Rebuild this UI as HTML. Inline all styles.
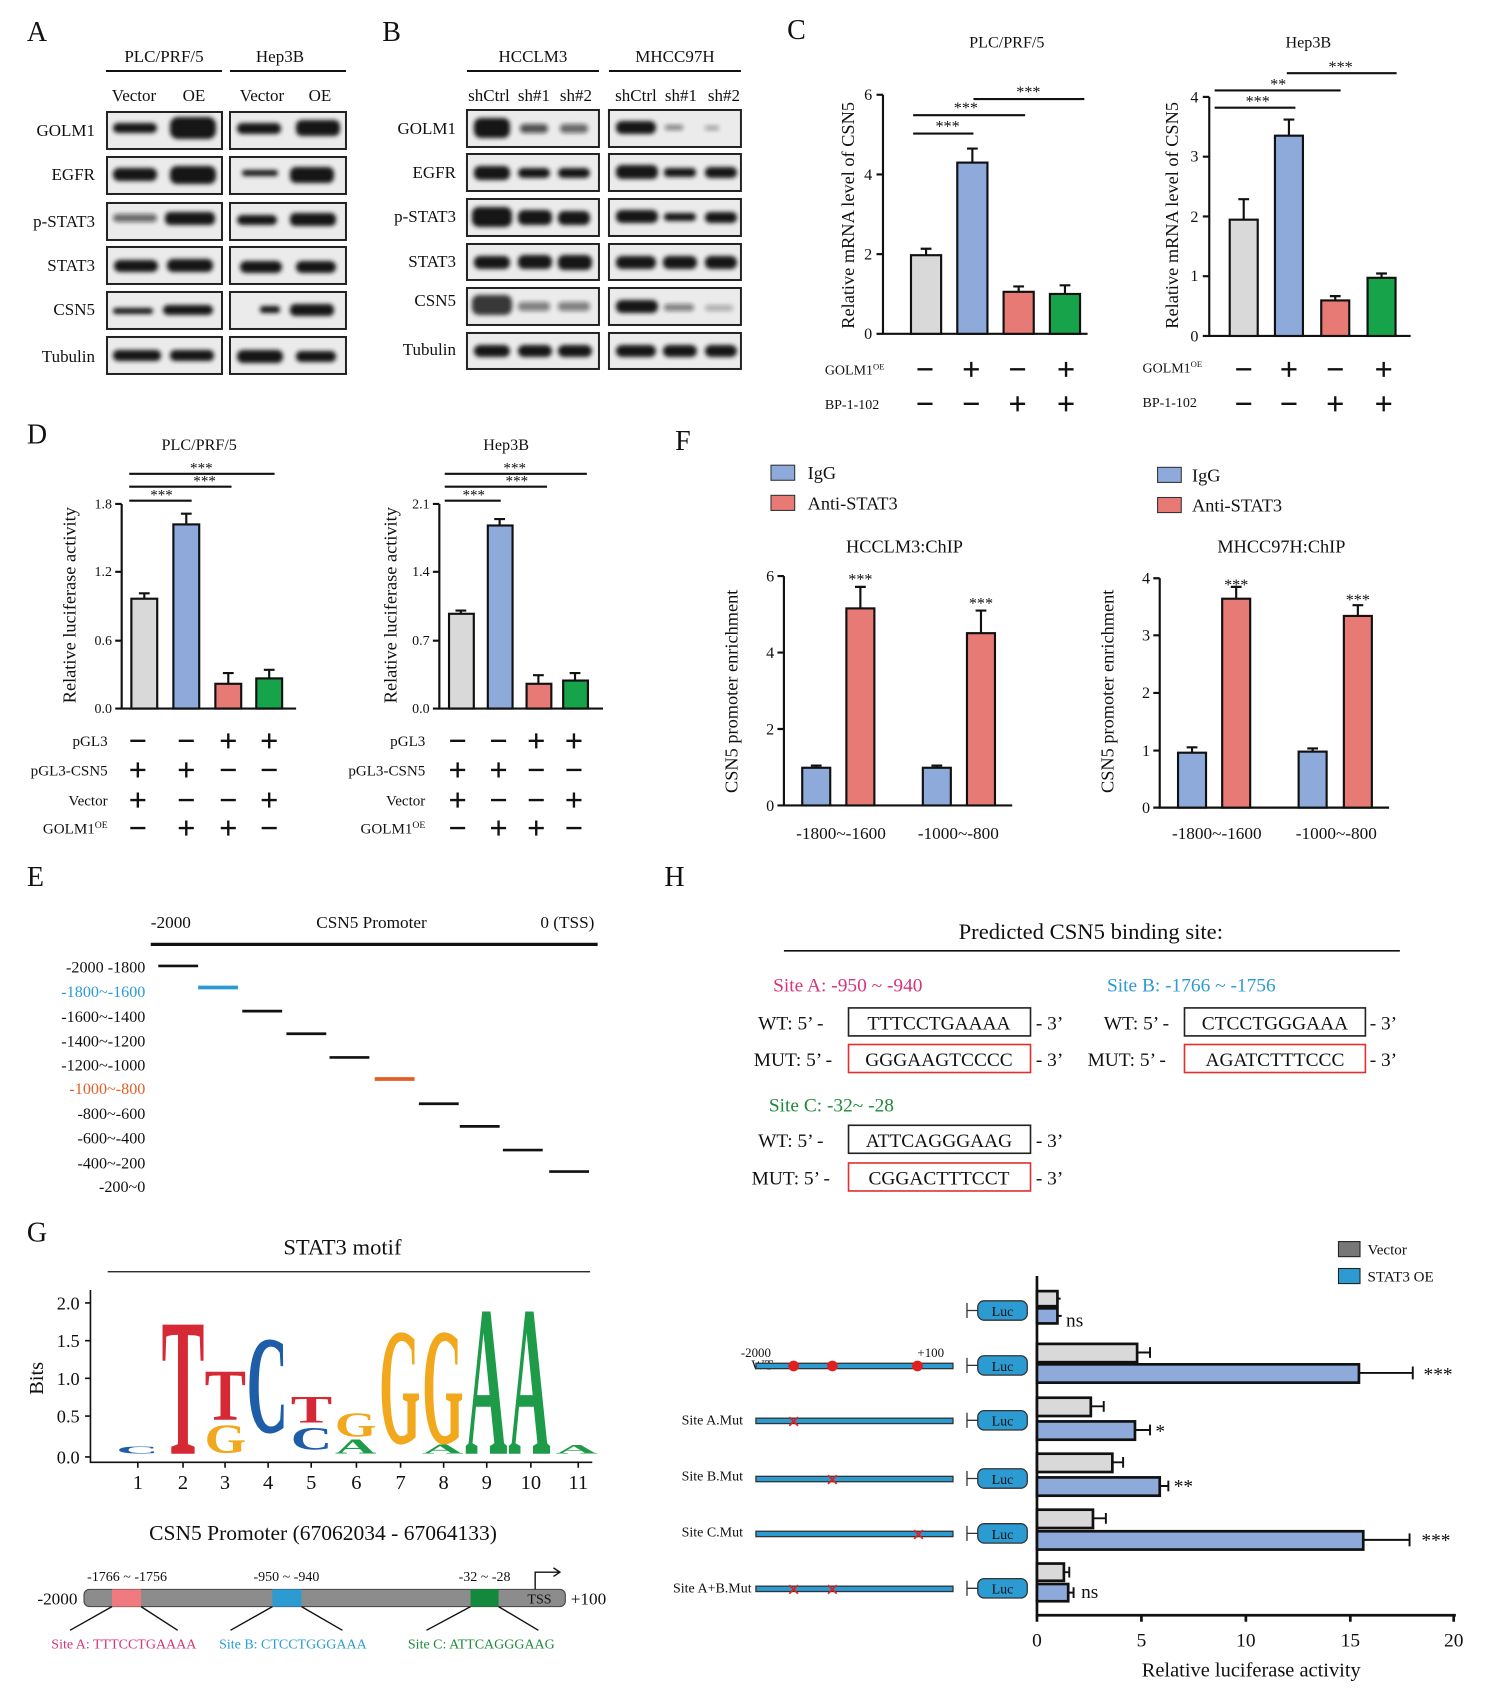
<!DOCTYPE html>
<html><head><meta charset="utf-8"><style>
html,body{margin:0;padding:0;background:#fff}
svg{display:block}
text{font-family:"Liberation Serif",serif;fill:#111}
</style></head><body>
<svg width="1486" height="1696" viewBox="0 0 1380 1575" preserveAspectRatio="none" xmlns="http://www.w3.org/2000/svg">
<defs><filter id="b" x="-20%" y="-50%" width="140%" height="200%"><feGaussianBlur stdDeviation="2.2"/></filter></defs>
<rect width="1380" height="1575" fill="#fff"/>
<text x="25" y="38" font-size="26">A</text>
<text x="355" y="38" font-size="26">B</text>
<g transform="scale(0.9286)">
<!-- Panel A -->
<g font-size="17" text-anchor="middle">
<text x="164" y="62">PLC/PRF/5</text><text x="280" y="62">Hep3B</text>
<text x="134" y="101">Vector</text><text x="194" y="101">OE</text><text x="262" y="101">Vector</text><text x="320" y="101">OE</text>
</g>
<g stroke="#111" stroke-width="2"><line x1="106" y1="71" x2="222" y2="71"/><line x1="230" y1="71" x2="346" y2="71"/></g>
<g font-size="17" text-anchor="end">
<text x="95" y="136">GOLM1</text><text x="95" y="180">EGFR</text><text x="95" y="227">p-STAT3</text><text x="95" y="271">STAT3</text><text x="95" y="315">CSN5</text><text x="95" y="362">Tubulin</text>
</g>
<g fill="#ebebeb" stroke="#222" stroke-width="2">
<rect x="107" y="112" width="115" height="37"/><rect x="230" y="112" width="116" height="37"/>
<rect x="107" y="157" width="115" height="37"/><rect x="230" y="157" width="116" height="37"/>
<rect x="107" y="203" width="115" height="37"/><rect x="230" y="203" width="116" height="37"/>
<rect x="107" y="247" width="115" height="37"/><rect x="230" y="247" width="116" height="37"/>
<rect x="107" y="292" width="115" height="37"/><rect x="230" y="292" width="116" height="37"/>
<rect x="107" y="337" width="115" height="37"/><rect x="230" y="337" width="116" height="37"/>
</g>
<g fill="#151515" filter="url(#b)">
<rect x="113" y="123" width="44" height="10" rx="5"/><rect x="170" y="117" width="46" height="22" rx="8"/>
<rect x="237" y="123" width="44" height="11" rx="5"/><rect x="296" y="120" width="44" height="16" rx="6"/>
<rect x="113" y="168" width="44" height="13" rx="6"/><rect x="170" y="166" width="46" height="18" rx="7"/>
<rect x="242" y="170" width="36" height="6" rx="3"/><rect x="290" y="167" width="44" height="16" rx="6"/>
<rect x="113" y="214" width="44" height="8" rx="4" opacity=".6"/><rect x="165" y="212" width="50" height="13" rx="5"/>
<rect x="237" y="215" width="40" height="10" rx="5"/><rect x="290" y="213" width="46" height="13" rx="5"/>
<rect x="114" y="260" width="44" height="12" rx="6"/><rect x="167" y="259" width="46" height="13" rx="6"/>
<rect x="240" y="261" width="42" height="12" rx="6"/><rect x="296" y="261" width="40" height="12" rx="6"/>
<rect x="113" y="308" width="40" height="6" rx="3"/><rect x="163" y="305" width="50" height="10" rx="5"/>
<rect x="260" y="306" width="20" height="7" rx="3"/><rect x="290" y="304" width="44" height="12" rx="5"/>
<rect x="113" y="350" width="48" height="11" rx="5"/><rect x="170" y="350" width="44" height="11" rx="5"/>
<rect x="237" y="350" width="46" height="13" rx="6"/><rect x="296" y="351" width="40" height="11" rx="5"/>
</g>
<!-- Panel B -->
<g font-size="17" text-anchor="middle">
<text x="533" y="62">HCCLM3</text><text x="675" y="62">MHCC97H</text>
<text x="489" y="101">shCtrl</text><text x="534" y="101">sh#1</text><text x="576" y="101">sh#2</text>
<text x="636" y="101">shCtrl</text><text x="681" y="101">sh#1</text><text x="724" y="101">sh#2</text>
</g>
<g stroke="#111" stroke-width="2"><line x1="467" y1="71" x2="599" y2="71"/><line x1="609" y1="71" x2="741" y2="71"/></g>
<g font-size="17" text-anchor="end">
<text x="456" y="134">GOLM1</text><text x="456" y="178">EGFR</text><text x="456" y="222">p-STAT3</text><text x="456" y="267">STAT3</text><text x="456" y="306">CSN5</text><text x="456" y="355">Tubulin</text>
</g>
<g fill="#ebebeb" stroke="#222" stroke-width="2">
<rect x="467" y="110" width="132" height="37"/><rect x="609" y="110" width="132" height="37"/>
<rect x="467" y="154" width="132" height="37"/><rect x="609" y="154" width="132" height="37"/>
<rect x="467" y="199" width="132" height="37"/><rect x="609" y="199" width="132" height="37"/>
<rect x="467" y="244" width="132" height="36"/><rect x="609" y="244" width="132" height="36"/>
<rect x="467" y="288" width="132" height="37"/><rect x="609" y="288" width="132" height="37"/>
<rect x="467" y="333" width="132" height="36"/><rect x="609" y="333" width="132" height="36"/>
</g>
<g fill="#151515" filter="url(#b)">
<rect x="474" y="118" width="36" height="20" rx="7"/><rect x="520" y="124" width="28" height="9" rx="4" opacity=".7"/><rect x="560" y="124" width="28" height="9" rx="4" opacity=".6"/>
<rect x="616" y="121" width="40" height="13" rx="6"/><rect x="665" y="125" width="18" height="5" rx="2" opacity=".5"/><rect x="705" y="126" width="14" height="4" rx="2" opacity=".4"/>
<rect x="474" y="166" width="36" height="14" rx="6"/><rect x="518" y="168" width="32" height="10" rx="5"/><rect x="558" y="168" width="32" height="10" rx="5"/>
<rect x="616" y="165" width="42" height="14" rx="6"/><rect x="664" y="168" width="32" height="9" rx="4"/><rect x="705" y="167" width="32" height="11" rx="5"/>
<rect x="472" y="207" width="40" height="20" rx="7"/><rect x="518" y="210" width="34" height="15" rx="6"/><rect x="558" y="211" width="32" height="14" rx="6"/>
<rect x="616" y="210" width="42" height="13" rx="6"/><rect x="664" y="213" width="32" height="8" rx="4"/><rect x="705" y="212" width="32" height="11" rx="5"/>
<rect x="474" y="256" width="36" height="13" rx="6"/><rect x="518" y="255" width="34" height="14" rx="6"/><rect x="558" y="255" width="34" height="15" rx="6"/>
<rect x="616" y="256" width="40" height="13" rx="6"/><rect x="663" y="256" width="34" height="13" rx="6"/><rect x="705" y="256" width="32" height="13" rx="6"/>
<rect x="472" y="295" width="40" height="20" rx="7" opacity=".85"/><rect x="518" y="302" width="32" height="9" rx="4" opacity=".5"/><rect x="558" y="302" width="32" height="9" rx="4" opacity=".5"/>
<rect x="616" y="300" width="42" height="13" rx="6"/><rect x="664" y="304" width="30" height="7" rx="3" opacity=".5"/><rect x="705" y="305" width="28" height="6" rx="3" opacity=".3"/>
<rect x="474" y="345" width="36" height="12" rx="6"/><rect x="518" y="345" width="34" height="12" rx="6"/><rect x="558" y="345" width="34" height="12" rx="6"/>
<rect x="616" y="345" width="40" height="12" rx="6"/><rect x="663" y="345" width="34" height="12" rx="6"/><rect x="705" y="345" width="32" height="12" rx="6"/>
</g>
</g>
<!-- Panel C -->
<text x="731" y="36" font-size="26">C</text>
<g font-size="15" text-anchor="middle"><text x="935" y="44">PLC/PRF/5</text><text x="1215" y="44">Hep3B</text></g>
<g stroke="#111" stroke-width="2" fill="none">
<polyline points="820,88 820,310 1010,310"/>
<line x1="814" y1="88" x2="820" y2="88"/><line x1="814" y1="162" x2="820" y2="162"/><line x1="814" y1="236" x2="820" y2="236"/><line x1="814" y1="310" x2="820" y2="310"/>
<polyline points="1123,90 1123,312 1310,312"/>
<line x1="1117" y1="90" x2="1123" y2="90"/><line x1="1117" y1="145.5" x2="1123" y2="145.5"/><line x1="1117" y1="201" x2="1123" y2="201"/><line x1="1117" y1="256.5" x2="1123" y2="256.5"/><line x1="1117" y1="312" x2="1123" y2="312"/>
</g>
<g font-size="15" text-anchor="end" style="font-family:'Liberation Sans',sans-serif">
<text x="810" y="93">6</text><text x="810" y="167">4</text><text x="810" y="241">2</text><text x="810" y="315">0</text>
<text x="1113" y="95">4</text><text x="1113" y="150">3</text><text x="1113" y="206">2</text><text x="1113" y="261">1</text><text x="1113" y="317">0</text>
</g>
<text transform="translate(793,200) rotate(-90)" font-size="17" text-anchor="middle">Relative mRNA level of CSN5</text>
<text transform="translate(1094,200) rotate(-90)" font-size="17" text-anchor="middle">Relative mRNA level of CSN5</text>
<g stroke="#111" stroke-width="2">
<rect x="846" y="237" width="28" height="73" fill="#d9d9d9"/><rect x="889" y="151" width="28" height="159" fill="#8eaadb"/><rect x="932" y="271" width="28" height="39" fill="#e87a76"/><rect x="975" y="273" width="28" height="37" fill="#16a34a"/>
<rect x="1142" y="204" width="26" height="108" fill="#d9d9d9"/><rect x="1184" y="126" width="26" height="186" fill="#8eaadb"/><rect x="1227" y="279" width="26" height="33" fill="#e87a76"/><rect x="1270" y="258" width="26" height="54" fill="#16a34a"/>
<path d="M860 237V231M855 231H865M903 151V138M898 138H908M946 271V266M941 266H951M989 273V265M984 265H994" fill="none"/>
<path d="M1155 204V185M1150 185H1160M1197 126V111M1192 111H1202M1240 279V275M1235 275H1245M1283 258V254M1278 254H1288" fill="none"/>
<path d="M848 124H904M848 107H952M904 92H1007M1128 100H1203M1128 84H1245M1195 68H1297"/>
</g>
<g font-size="15" text-anchor="middle"><text x="880" y="122">***</text><text x="897" y="105">***</text><text x="955" y="90">***</text><text x="1168" y="99">***</text><text x="1187" y="83">**</text><text x="1245" y="67">***</text></g>
<g font-size="13"><text x="766" y="348">GOLM1<tspan font-size="8" dy="-5">OE</tspan></text><text x="766" y="380">BP-1-102</text>
<text x="1061" y="346">GOLM1<tspan font-size="8" dy="-5">OE</tspan></text><text x="1061" y="378">BP-1-102</text></g>
<g stroke="#111" stroke-width="2.2">
<path d="M852 343H866M895 343H909M938 343H952M983 343H997M902 336V350M990 336V350"/>
<path d="M852 375H866M895 375H909M938 375H952M983 375H997M945 368V382M990 368V382"/>
<path d="M1148 343H1162M1190 343H1204M1233 343H1247M1278 343H1292M1197 336V350M1285 336V350"/>
<path d="M1148 375H1162M1190 375H1204M1233 375H1247M1278 375H1292M1240 368V382M1285 368V382"/>
</g>
<!-- Panel D -->
<text x="25" y="412" font-size="26">D</text>
<g font-size="15" text-anchor="middle"><text x="185" y="418">PLC/PRF/5</text><text x="470" y="418">Hep3B</text></g>
<g stroke="#111" stroke-width="2" fill="none">
<polyline points="113,468 113,658 275,658"/>
<path d="M107 468H113M107 531H113M107 595H113M107 658H113"/>
<polyline points="408,468 408,658 560,658"/>
<path d="M402 468H408M402 531H408M402 595H408M402 658H408"/>
</g>
<g font-size="13" text-anchor="end" style="font-family:'Liberation Sans',sans-serif">
<text x="104" y="472">1.8</text><text x="104" y="535">1.2</text><text x="104" y="599">0.6</text><text x="104" y="662">0.0</text>
<text x="399" y="472">2.1</text><text x="399" y="535">1.4</text><text x="399" y="599">0.7</text><text x="399" y="662">0.0</text>
</g>
<text transform="translate(70,562) rotate(-90)" font-size="17" text-anchor="middle">Relative luciferase activity</text>
<text transform="translate(368,562) rotate(-90)" font-size="17" text-anchor="middle">Relative luciferase activity</text>
<g stroke="#111" stroke-width="2">
<rect x="122" y="556" width="24" height="102" fill="#d9d9d9"/><rect x="161" y="487" width="24" height="171" fill="#8eaadb"/><rect x="200" y="635" width="24" height="23" fill="#e87a76"/><rect x="238" y="630" width="24" height="28" fill="#16a34a"/>
<rect x="417" y="570" width="23" height="88" fill="#d9d9d9"/><rect x="453" y="488" width="23" height="170" fill="#8eaadb"/><rect x="489" y="635" width="23" height="23" fill="#e87a76"/><rect x="523" y="632" width="23" height="26" fill="#16a34a"/>
<path d="M134 556V551M129 551H139M173 487V477M168 477H178M212 635V625M207 625H217M250 630V622M245 622H255" fill="none"/>
<path d="M428 570V567M423 567H433M464 488V482M459 482H469M500 635V627M495 627H505M534 632V625M529 625H539" fill="none"/>
<path d="M120 465H178M120 452H215M120 440H255M413 465H465M413 452H508M413 440H545"/>
</g>
<g font-size="14" text-anchor="middle"><text x="150" y="464">***</text><text x="190" y="451">***</text><text x="187" y="439">***</text><text x="440" y="464">***</text><text x="480" y="451">***</text><text x="478" y="439">***</text></g>
<g font-size="14" text-anchor="end"><text x="100" y="693">pGL3</text><text x="100" y="720">pGL3-CSN5</text><text x="100" y="748">Vector</text><text x="100" y="774">GOLM1<tspan font-size="9" dy="-5">OE</tspan></text>
<text x="395" y="693">pGL3</text><text x="395" y="720">pGL3-CSN5</text><text x="395" y="748">Vector</text><text x="395" y="774">GOLM1<tspan font-size="9" dy="-5">OE</tspan></text></g>
<g stroke="#111" stroke-width="2.2" fill="none">
<path d="M121 688H135M166 688H180M205 688H219M243 688H257M212 681V695M250 681V695"/>
<path d="M121 715H135M166 715H180M205 715H219M243 715H257M128 708V722M173 708V722"/>
<path d="M121 743H135M166 743H180M205 743H219M243 743H257M128 736V750M250 736V750"/>
<path d="M121 769H135M166 769H180M205 769H219M243 769H257M173 762V776M212 762V776"/>
<path d="M418 688H432M456 688H470M491 688H505M526 688H540M498 681V695M533 681V695"/>
<path d="M418 715H432M456 715H470M491 715H505M526 715H540M425 708V722M463 708V722"/>
<path d="M418 743H432M456 743H470M491 743H505M526 743H540M425 736V750M533 736V750"/>
<path d="M418 769H432M456 769H470M491 769H505M526 769H540M463 762V776M498 762V776"/>
</g>
<!-- Panel F -->
<text x="627" y="418" font-size="26">F</text>
<g stroke="#333" stroke-width="1"><rect x="716" y="432" width="22" height="14" fill="#8eaadb"/><rect x="716" y="460" width="22" height="14" fill="#e87a76"/><rect x="1075" y="434" width="22" height="14" fill="#8eaadb"/><rect x="1075" y="462" width="22" height="14" fill="#e87a76"/></g>
<g font-size="17"><text x="750" y="445">IgG</text><text x="750" y="473">Anti-STAT3</text><text x="1107" y="447">IgG</text><text x="1107" y="475">Anti-STAT3</text></g>
<g font-size="17" text-anchor="middle"><text x="840" y="513">HCCLM3:ChIP</text><text x="1190" y="513">MHCC97H:ChIP</text></g>
<g stroke="#111" stroke-width="2" fill="none">
<polyline points="728,535 728,748 940,748"/><path d="M722 535H728M722 606H728M722 677H728M722 748H728"/>
<polyline points="1077,537 1077,750 1290,750"/><path d="M1071 537H1077M1071 590H1077M1071 643.5H1077M1071 697H1077M1071 750H1077"/>
</g>
<g font-size="15" text-anchor="end" style="font-family:'Liberation Sans',sans-serif"><text x="719" y="540">6</text><text x="719" y="611">4</text><text x="719" y="682">2</text><text x="719" y="753">0</text>
<text x="1068" y="542">4</text><text x="1068" y="595">3</text><text x="1068" y="648">2</text><text x="1068" y="702">1</text><text x="1068" y="755">0</text></g>
<text transform="translate(685,642) rotate(-90)" font-size="17" text-anchor="middle">CSN5 promoter enrichment</text>
<text transform="translate(1034,642) rotate(-90)" font-size="17" text-anchor="middle">CSN5 promoter enrichment</text>
<g stroke="#111" stroke-width="2">
<rect x="745" y="713" width="26" height="35" fill="#8eaadb"/><rect x="786" y="565" width="26" height="183" fill="#e87a76"/><rect x="857" y="713" width="26" height="35" fill="#8eaadb"/><rect x="898" y="588" width="26" height="160" fill="#e87a76"/>
<rect x="1094" y="699" width="26" height="51" fill="#8eaadb"/><rect x="1135" y="556" width="26" height="194" fill="#e87a76"/><rect x="1206" y="698" width="26" height="52" fill="#8eaadb"/><rect x="1248" y="572" width="26" height="178" fill="#e87a76"/>
<path d="M799 565V545M794 545H804M911 588V567M906 567H916M758 713V711M753 711H763M870 713V711M865 711H875" fill="none"/>
<path d="M1148 556V545M1143 545H1153M1261 572V562M1256 562H1266M1107 699V694M1102 694H1112M1219 698V695M1214 695H1224" fill="none"/>
</g>
<g font-size="15" text-anchor="middle"><text x="799" y="543">***</text><text x="911" y="565">***</text><text x="1148" y="548">***</text><text x="1261" y="562">***</text></g>
<g font-size="16" text-anchor="middle"><text x="781" y="779">-1800~-1600</text><text x="890" y="779">-1000~-800</text><text x="1130" y="779">-1800~-1600</text><text x="1241" y="779">-1000~-800</text></g>
<!-- Panel E -->
<text x="25" y="823" font-size="26">E</text>
<g font-size="16"><text x="140" y="862">-2000</text><text x="345" y="862" text-anchor="middle">CSN5 Promoter</text><text x="552" y="862" text-anchor="end">0 (TSS)</text></g>
<line x1="140" y1="877" x2="555" y2="877" stroke="#111" stroke-width="3"/>
<g font-size="15" text-anchor="end">
<text x="135" y="903">-2000 -1800</text><text x="135" y="926" style="fill:#2b9bd1">-1800~-1600</text><text x="135" y="949">-1600~-1400</text><text x="135" y="972">-1400~-1200</text><text x="135" y="994">-1200~-1000</text><text x="135" y="1016" style="fill:#e35e26">-1000~-800</text><text x="135" y="1039">-800~-600</text><text x="135" y="1062">-600~-400</text><text x="135" y="1085">-400~-200</text><text x="135" y="1107">-200~0</text>
</g>
<g stroke="#111" stroke-width="2.5">
<line x1="147" y1="897" x2="184" y2="897"/><line x1="184" y1="917" x2="221" y2="917" stroke="#2b9bd1" stroke-width="3.5"/><line x1="225" y1="939" x2="262" y2="939"/><line x1="266" y1="960" x2="303" y2="960"/><line x1="306" y1="982" x2="343" y2="982"/><line x1="348" y1="1002" x2="385" y2="1002" stroke="#e35e26" stroke-width="3.5"/><line x1="389" y1="1025" x2="426" y2="1025"/><line x1="427" y1="1046" x2="464" y2="1046"/><line x1="467" y1="1068" x2="504" y2="1068"/><line x1="510" y1="1088" x2="547" y2="1088"/>
</g>
<!-- Panel H text -->
<text x="617" y="823" font-size="26">H</text>
<text x="1013" y="872" font-size="21" text-anchor="middle">Predicted CSN5 binding site:</text>
<line x1="728" y1="883" x2="1300" y2="883" stroke="#111" stroke-width="1.5"/>
<g font-size="18">
<text x="718" y="921" style="fill:#d6337a">Site A:  -950 ~ -940</text>
<text x="1028" y="921" style="fill:#2b9bd1">Site B:  -1766 ~ -1756</text>
<text x="714" y="1032" style="fill:#1f8a3a">Site C:  -32~ -28</text>
<text x="704" y="956">WT: 5’ -</text><text x="700" y="990">MUT: 5’ -</text>
<text x="1025" y="956">WT: 5’ -</text><text x="1010" y="990">MUT: 5’ -</text>
<text x="704" y="1065">WT: 5’ -</text><text x="698" y="1100">MUT: 5’ -</text>
<text x="962" y="956">- 3’</text><text x="962" y="990">- 3’</text><text x="1272" y="956">- 3’</text><text x="1272" y="990">- 3’</text><text x="962" y="1065">- 3’</text><text x="962" y="1100">- 3’</text>
<text x="872" y="956" text-anchor="middle">TTTCCTGAAAA</text><text x="872" y="990" text-anchor="middle">GGGAAGTCCCC</text>
<text x="1184" y="956" text-anchor="middle">CTCCTGGGAAA</text><text x="1184" y="990" text-anchor="middle">AGATCTTTCCC</text>
<text x="872" y="1065" text-anchor="middle">ATTCAGGGAAG</text><text x="872" y="1100" text-anchor="middle">CGGACTTTCCT</text>
</g>
<g fill="none" stroke-width="1.5">
<rect x="788" y="936" width="169" height="26" stroke="#222"/><rect x="788" y="970" width="169" height="26" stroke="#e03030"/>
<rect x="1100" y="936" width="168" height="26" stroke="#222"/><rect x="1100" y="970" width="168" height="26" stroke="#e03030"/>
<rect x="788" y="1045" width="169" height="26" stroke="#222"/><rect x="788" y="1080" width="169" height="26" stroke="#e03030"/>
</g>
<!-- Panel G -->
<text x="25" y="1153" font-size="26">G</text>
<text x="318" y="1165" font-size="21" text-anchor="middle">STAT3 motif</text>
<line x1="100" y1="1181" x2="548" y2="1181" stroke="#111" stroke-width="1.2"/>
<text transform="translate(40,1280) rotate(-90)" font-size="19" text-anchor="middle">Bits</text>
<g stroke="#111" stroke-width="1.5" fill="none"><polyline points="84,1198 84,1358 550,1358"/>
<path d="M79 1210H84M79 1245H84M79 1280H84M79 1315H84M79 1353H84"/>
<path d="M128 1358v5M170 1358v5M209 1358v5M249 1358v5M289 1358v5M331 1358v5M372 1358v5M412 1358v5M452 1358v5M493 1358v5M537 1358v5"/></g>
<g font-size="17" text-anchor="end"><text x="74" y="1216">2.0</text><text x="74" y="1251">1.5</text><text x="74" y="1286">1.0</text><text x="74" y="1321">0.5</text><text x="74" y="1359">0.0</text></g>
<g font-size="19" text-anchor="middle"><text x="128" y="1383">1</text><text x="170" y="1383">2</text><text x="209" y="1383">3</text><text x="249" y="1383">4</text><text x="289" y="1383">5</text><text x="331" y="1383">6</text><text x="372" y="1383">7</text><text x="412" y="1383">8</text><text x="452" y="1383">9</text><text x="493" y="1383">10</text><text x="537" y="1383">11</text></g>
<g font-weight="bold" font-size="100" style="font-family:'Liberation Sans',sans-serif">
<text transform="translate(150,1350) scale(0.57,1.83)" textLength="70" lengthAdjust="spacingAndGlyphs" style="fill:#d62936">T</text>
<text transform="translate(190,1318) scale(0.55,0.68)" textLength="70" lengthAdjust="spacingAndGlyphs" style="fill:#d62936">T</text>
<text transform="translate(190,1349) scale(0.55,0.38)" textLength="70" lengthAdjust="spacingAndGlyphs" style="fill:#f2a81d">G</text>
<text transform="translate(229,1330) scale(0.55,1.3)" textLength="70" lengthAdjust="spacingAndGlyphs" style="fill:#1e5da8">C</text>
<text transform="translate(270,1321) scale(0.55,0.36)" textLength="70" lengthAdjust="spacingAndGlyphs" style="fill:#d62936">T</text>
<text transform="translate(270,1346) scale(0.55,0.3)" textLength="70" lengthAdjust="spacingAndGlyphs" style="fill:#1e5da8">C</text>
<text transform="translate(311,1334) scale(0.55,0.32)" textLength="70" lengthAdjust="spacingAndGlyphs" style="fill:#f2a81d">G</text>
<text transform="translate(311,1350) scale(0.55,0.2)" textLength="70" lengthAdjust="spacingAndGlyphs" style="fill:#1e9b48">A</text>
<text transform="translate(352,1340) scale(0.55,1.55)" textLength="70" lengthAdjust="spacingAndGlyphs" style="fill:#f2a81d">G</text>
<text transform="translate(392,1340) scale(0.55,1.55)" textLength="70" lengthAdjust="spacingAndGlyphs" style="fill:#f2a81d">G</text>
<text transform="translate(392,1350) scale(0.55,0.13)" textLength="70" lengthAdjust="spacingAndGlyphs" style="fill:#1e9b48">A</text>
<text transform="translate(432,1350) scale(0.56,2.0)" textLength="70" lengthAdjust="spacingAndGlyphs" style="fill:#1e9b48">A</text>
<text transform="translate(472,1350) scale(0.56,2.0)" textLength="70" lengthAdjust="spacingAndGlyphs" style="fill:#1e9b48">A</text>
<text transform="translate(516,1350) scale(0.56,0.12)" textLength="70" lengthAdjust="spacingAndGlyphs" style="fill:#1e9b48">A</text>
<text transform="translate(108,1350) scale(0.56,0.1)" textLength="70" lengthAdjust="spacingAndGlyphs" style="fill:#1e5da8">C</text>
</g>
<text x="300" y="1430" font-size="20" text-anchor="middle">CSN5 Promoter (67062034 - 67064133)</text>
<rect x="78" y="1476" width="447" height="16" rx="5" fill="#8c8c8c" stroke="#444"/>
<rect x="104" y="1476" width="27" height="16" fill="#f07a80"/><rect x="253" y="1476" width="27" height="16" fill="#2b9bd1"/><rect x="437" y="1476" width="26" height="16" fill="#13893e"/>
<g font-size="13" text-anchor="middle"><text x="118" y="1468">-1766 ~ -1756</text><text x="266" y="1468">-950 ~ -940</text><text x="450" y="1468">-32 ~ -28</text><text x="501" y="1489">TSS</text></g>
<g font-size="16"><text x="72" y="1490" text-anchor="end">-2000</text><text x="530" y="1490">+100</text></g>
<g stroke="#111" stroke-width="1.3" fill="none"><path d="M497 1476V1460H520"/><path d="M514 1456L520 1460L514 1464"/>
<path d="M104 1492L65 1514M131 1492L165 1514M253 1492L214 1514M280 1492L318 1514M437 1492L396 1514M463 1492L500 1514"/></g>
<g font-size="13" text-anchor="middle"><text x="115" y="1531" style="fill:#d6337a">Site A: TTTCCTGAAAA</text><text x="272" y="1531" style="fill:#2b9bd1">Site B: CTCCTGGGAAA</text><text x="447" y="1531" style="fill:#1f8a3a">Site C: ATTCAGGGAAG</text></g>
<!-- Panel H chart -->
<rect x="1243" y="1153" width="20" height="14" fill="#777" stroke="#222"/><rect x="1243" y="1178" width="20" height="14" fill="#2b9bd1" stroke="#222"/>
<g font-size="14"><text x="1270" y="1165">Vector</text><text x="1270" y="1190">STAT3 OE</text></g>
<g stroke="#111" stroke-width="2.5" fill="none"><polyline points="963,1185 963,1500 1352,1500"/>
<path d="M963 1500v6M1060 1500v6M1157 1500v6M1254 1500v6M1350 1500v6"/></g>
<g font-size="18" text-anchor="middle"><text x="963" y="1529">0</text><text x="1060" y="1529">5</text><text x="1157" y="1529">10</text><text x="1254" y="1529">15</text><text x="1350" y="1529">20</text></g>
<text x="1162" y="1557" font-size="19" text-anchor="middle">Relative luciferase activity</text>
<g stroke="#111" stroke-width="2.5">
<rect x="963" y="1199" width="19" height="14" fill="#d9d9d9"/><rect x="963" y="1215" width="19" height="14" fill="#8eaadb"/>
<rect x="963" y="1248" width="93" height="17" fill="#d9d9d9"/><rect x="963" y="1267" width="299" height="17" fill="#8eaadb"/>
<rect x="963" y="1298" width="50" height="17" fill="#d9d9d9"/><rect x="963" y="1320" width="91" height="17" fill="#8eaadb"/>
<rect x="963" y="1350" width="70" height="17" fill="#d9d9d9"/><rect x="963" y="1372" width="114" height="17" fill="#8eaadb"/>
<rect x="963" y="1402" width="52" height="17" fill="#d9d9d9"/><rect x="963" y="1422" width="303" height="17" fill="#8eaadb"/>
<rect x="963" y="1452" width="25" height="16" fill="#d9d9d9"/><rect x="963" y="1471" width="29" height="16" fill="#8eaadb"/>
<path fill="none" stroke-width="1.8" d="M1056 1256H1068M1068 1251v10M1262 1275H1312M1312 1269v12M1013 1306H1025M1025 1301v10M1054 1328H1068M1068 1323v10M1033 1358H1043M1043 1353v10M1077 1380H1085M1085 1375v10M1015 1410H1027M1027 1405v10M1266 1430H1309M1309 1424v12M988 1460H993M993 1455v10M992 1479H997M997 1474v10M982 1206H985M982 1222H986"/>
</g>
<g font-size="18"><text x="990" y="1232">ns</text><text x="1322" y="1282">***</text><text x="1073" y="1335">*</text><text x="1090" y="1386">**</text><text x="1320" y="1436">***</text><text x="1004" y="1484">ns</text></g>
<g font-size="13" text-anchor="end"><text x="718" y="1272">WT</text><text x="690" y="1323">Site A.Mut</text><text x="690" y="1375">Site B.Mut</text><text x="690" y="1427">Site C.Mut</text><text x="698" y="1479">Site A+B.Mut</text></g>
<g font-size="12"><text x="688" y="1260">-2000</text><text x="852" y="1260">+100</text></g>
<g stroke="#333" stroke-width="1.2">
<rect x="702" y="1266" width="183" height="5" fill="#2b9bd1"/><rect x="702" y="1317" width="183" height="5" fill="#2b9bd1"/><rect x="702" y="1371" width="183" height="5" fill="#2b9bd1"/><rect x="702" y="1422" width="183" height="5" fill="#2b9bd1"/><rect x="702" y="1473" width="183" height="5" fill="#2b9bd1"/>
<path fill="none" d="M898 1210v14M898 1217H908M898 1261v14M898 1268H908M898 1312v14M898 1319H908M898 1366v14M898 1373H908M898 1417v14M898 1424H908M898 1468v14M898 1475H908"/>
<rect x="908" y="1208" width="46" height="18" rx="6" fill="#2b9bd1"/><rect x="908" y="1259" width="46" height="18" rx="6" fill="#2b9bd1"/><rect x="908" y="1310" width="46" height="18" rx="6" fill="#2b9bd1"/><rect x="908" y="1364" width="46" height="18" rx="6" fill="#2b9bd1"/><rect x="908" y="1415" width="46" height="18" rx="6" fill="#2b9bd1"/><rect x="908" y="1466" width="46" height="18" rx="6" fill="#2b9bd1"/>
</g>
<g font-size="13" text-anchor="middle"><text x="931" y="1222">Luc</text><text x="931" y="1273">Luc</text><text x="931" y="1324">Luc</text><text x="931" y="1378">Luc</text><text x="931" y="1429">Luc</text><text x="931" y="1480">Luc</text></g>
<g fill="#e02020"><circle cx="737" cy="1268.5" r="5"/><circle cx="773" cy="1268.5" r="5"/><circle cx="852" cy="1268.5" r="5"/></g>
<g stroke="#e02020" stroke-width="1.6"><path d="M733 1316l8 8M741 1316l-8 8M769 1370l8 8M777 1370l-8 8M849 1421l8 8M857 1421l-8 8M733 1472l8 8M741 1472l-8 8M769 1472l8 8M777 1472l-8 8"/></g>
</svg>
</body></html>
